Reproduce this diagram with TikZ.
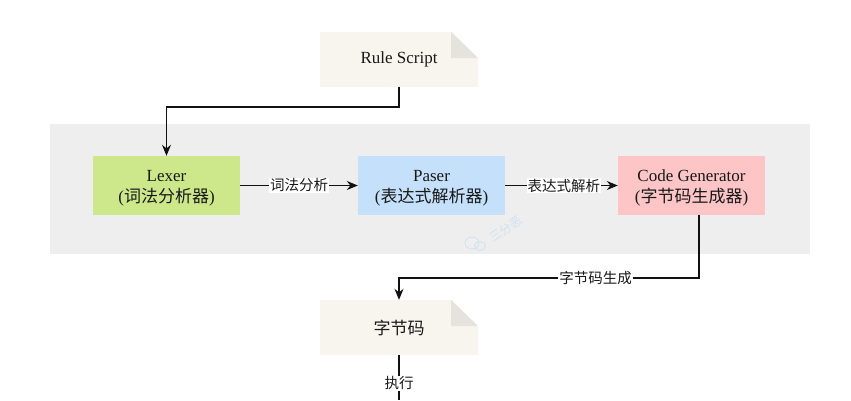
\documentclass[tikz,border=0pt]{standalone}
\usepackage{fontspec}
\setmainfont{Liberation Serif}
\newfontfamily\cjk{Noto Sans CJK SC}
\usetikzlibrary{arrows.meta}
\definecolor{docfill}{HTML}{F7F5EE}
\definecolor{foldfill}{HTML}{E5E3DD}
\definecolor{bandfill}{HTML}{EEEEEE}
\definecolor{lexfill}{HTML}{CDE88B}
\definecolor{pasfill}{HTML}{C5E0FA}
\definecolor{genfill}{HTML}{FDC5C6}
\definecolor{markcol}{HTML}{CFE1F2}
\definecolor{linecol}{HTML}{111111}
\newcommand{\toplift}{\rule{0pt}{16pt}}
\tikzset{
  x=1pt,y=-1pt,
  stagebox/.style={minimum width=147pt,minimum height=59pt,inner sep=0pt,align=center,font=\fontsize{17}{21}\selectfont,text=black!90},
  docbox/.style={fill=docfill,minimum width=158pt,minimum height=55pt,inner sep=0pt,font=\fontsize{17}{20}\selectfont,text=black!90},
  conn/.style={draw=linecol,line width=1.1pt,-{Stealth[length=11pt,width=9pt]}},
  plain/.style={draw=linecol,line width=1.1pt},
  edgelabel/.style={fill=white,inner sep=1pt,font=\cjk\fontsize{14.5}{16}\selectfont,text=black!90},
}
\begin{document}
\begin{tikzpicture}
\useasboundingbox (0,0) rectangle (851,400);
\fill[white] (0,0) rectangle (851,400);
\fill[bandfill] (50,124) rectangle (810,254);
% watermark
\node[rotate=35,text=markcol,font=\cjk\fontsize{12}{14}\selectfont,inner sep=0pt] (wm) at (506,229) {三分恶};
\draw[markcol,line width=0.8pt] (472,243) ellipse [x radius=7pt,y radius=6pt];
\draw[markcol,line width=0.8pt] (480,246) ellipse [x radius=5.5pt,y radius=4.5pt];
% documents
\node[docbox] (rule) at (399,59) {Rule Script};
\fill[white] (451,31) -- (479,31) -- (479,59) -- cycle;
\fill[foldfill] (451,32) -- (478,58) -- (451,58) -- cycle;
\node[docbox,font=\cjk\fontsize{17}{20}\selectfont] (code) at (399,327.5) {字节码};
\fill[white] (451,299) -- (479,299) -- (479,327) -- cycle;
\fill[foldfill] (451,300) -- (478,326) -- (451,326) -- cycle;
% stages
\node[stagebox,fill=lexfill] (lexer) at (166.5,185.5) {\toplift Lexer\\({\cjk 词法分析器})};
\node[stagebox,fill=pasfill] (paser) at (431.5,185.5) {\toplift Paser\\({\cjk 表达式解析器})};
\node[stagebox,fill=genfill] (gen) at (691.5,185.5) {\toplift Code Generator\\({\cjk 字节码生成器})};
% connectors
\coordinate (execend) at (399,400);
\draw[conn] (rule.south) -- (399,107) -- (166.5,107) -- (lexer.north);
\draw[conn] (lexer.east) -- node[edgelabel,pos=0.5] {词法分析} (paser.west);
\draw[conn] (paser.east) -- node[edgelabel,pos=0.52] (l2) {表达式解析} (gen.west);
\draw[conn] (gen.south -| 699,0) -- (699,278) -- node[edgelabel,pos=0.345] {字节码生成} (399,278) -- (code.north);
\draw[plain] (code.south) -- node[edgelabel,pos=0.63] {执行} (execend);
\end{tikzpicture}
\end{document}
